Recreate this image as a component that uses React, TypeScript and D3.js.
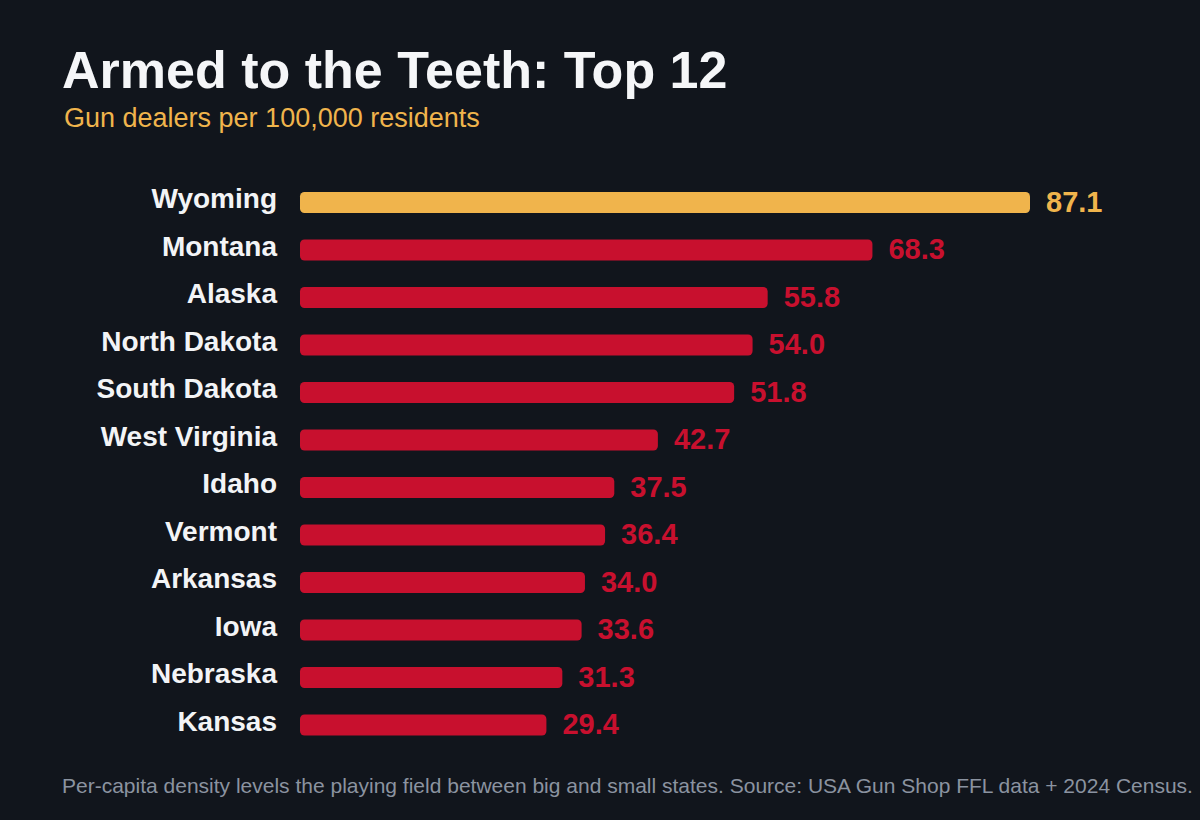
import React from 'react';
import * as d3 from 'd3';

// Gun dealers per 100,000 residents, top 12 states
const states = [
  'Wyoming', 'Montana', 'Alaska', 'North Dakota', 'South Dakota', 'West Virginia',
  'Idaho', 'Vermont', 'Arkansas', 'Iowa', 'Nebraska', 'Kansas',
];
const dealersPer100k = [87.1, 68.3, 55.8, 54.0, 51.8, 42.7, 37.5, 36.4, 34.0, 33.6, 31.3, 29.4];

const title = 'Armed to the Teeth: Top 12';
const subtitle = 'Gun dealers per 100,000 residents';
const footnote =
  'Per-capita density levels the playing field between big and small states. Source: USA Gun Shop FFL data + 2024 Census.';

const W = 1200;
const H = 820;
const FONT = '"Liberation Sans", Arial, Helvetica, sans-serif';
const BG = '#11151c';
const GOLD = '#f0b44c';
const RED = '#c8102e';

const App = () => {
  const rows = states.map((state, i) => ({ state, value: dealersPer100k[i] }));

  const x = d3.scaleLinear()
    .domain([0, d3.max(dealersPer100k) as number])
    .range([300, 1030]);

  const y = d3.scaleBand<string>()
    .domain(states)
    .range([178.75, 178.75 + 47.5 * states.length])
    .paddingInner(0.56)
    .paddingOuter(0.28);

  const colorFor = (i: number) => (i === 0 ? GOLD : RED);

  return (
    <svg
      width={W}
      height={H}
      viewBox={`0 0 ${W} ${H}`}
      style={{ position: 'absolute', left: 0, top: 0, display: 'block' }}
      fontFamily={FONT}
    >
      <rect width={W} height={H} fill={BG} />

      <text x={62} y={88} fontSize={52} fontWeight="bold" fill="#f5f6f8">{title}</text>
      <text x={64} y={127} fontSize={27} fill={GOLD}>{subtitle}</text>

      <g>
        {rows.map((d, i) => {
          const top = y(d.state) as number;
          const bh = y.bandwidth();
          const cy = top + bh / 2;
          return (
            <g key={d.state}>
              <text
                x={277}
                y={cy + 5.5}
                textAnchor="end"
                fontSize={28}
                fontWeight="bold"
                fill="#f3f4f6"
              >
                {d.state}
              </text>
              <rect
                x={x(0)}
                y={top}
                width={x(d.value) - x(0)}
                height={bh}
                rx={4.5}
                fill={colorFor(i)}
              />
              <text
                x={x(d.value) + 16}
                y={cy + 9}
                fontSize={29}
                fontWeight="bold"
                fill={colorFor(i)}
              >
                {d.value.toFixed(1)}
              </text>
            </g>
          );
        })}
      </g>

      <text x={62} y={793} fontSize={21} fill="#8b93a0">{footnote}</text>
    </svg>
  );
};

export default App;
